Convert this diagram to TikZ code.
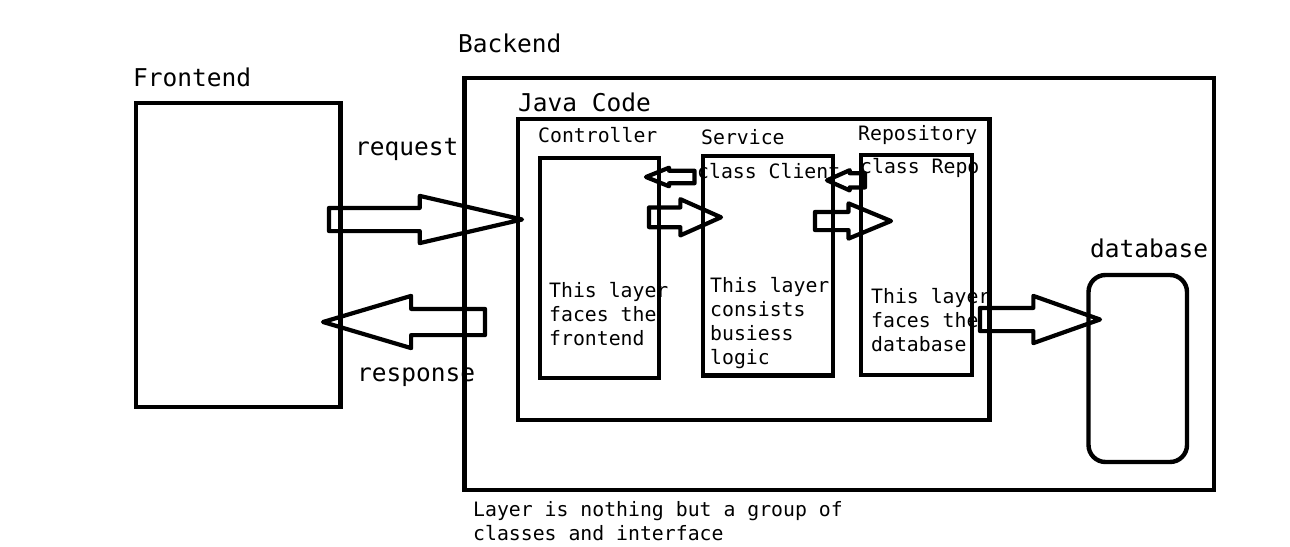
\documentclass[tikz,border=0pt]{standalone}
\usepackage{fontspec}
\setmainfont{DejaVu Sans Mono}
\usetikzlibrary{shapes.arrows}

\tikzset{
    box/.style={draw, line width=4.4pt, inner sep=0pt, outer sep=0pt, anchor=north west},
    big/.style={font=\fontsize{24.5}{29}\selectfont, inner sep=0pt, anchor=base west},
    small/.style={font=\fontsize{19.8}{24}\selectfont, inner sep=0pt, anchor=base west, align=left},
    blockarrow/.style={single arrow, draw, line width=4.2pt, line join=round, inner xsep=0pt,
        outer sep=0pt, single arrow head indent=0pt, anchor=tail},
}

\begin{document}
\begin{tikzpicture}[x=1pt,y=-1pt]
    \useasboundingbox (0,0) rectangle (1290,546);

    % boxes
    \node[box, minimum width=204.5pt, minimum height=304pt] (front) at (136,103) {};
    \node[box, minimum width=749.5pt, minimum height=412pt] (back) at (464.5,78) {};
    \node[box, minimum width=471.5pt, minimum height=301pt] (java) at (518,119) {};
    \node[box, minimum width=119pt, minimum height=220pt] (ctrl) at (540,158) {};
    \node[box, minimum width=130pt, minimum height=219.5pt] (serv) at (703,156) {};
    \node[box, minimum width=111pt, minimum height=220pt] (repo) at (861,155) {};
    \node[box, rounded corners=17pt, minimum width=98.5pt, minimum height=187pt] (db) at (1088.5,275) {};

    % labels (multi-line ones sit on the baseline of their last line)
    \node[big] (backlbl) at (458,52) {Backend};
    \node[big] (frontlbl) at (133,86) {Frontend};
    \node[big] (javalbl) at (518,111) {Java Code};
    \node[big] (reqlbl) at (355,155) {request};
    \node[big] (resplbl) at (357,381) {response};
    \node[big] (dblbl) at (1090,257) {database};
    \node[small] (ctrllbl) at (538,142) {Controller};
    \node[small] (servlbl) at (701,144) {Service};
    \node[small] (repolbl) at (858,140) {Repository};
    \node[small] (clientlbl) at (697,178) {class Client};
    \node[small] (repocls) at (860,173) {class Repo};
    \node[small] (ctrltxt) at (549,345) {This layer\\faces the\\frontend};
    \node[small] (servtxt) at (710,364) {This layer\\consists\\busiess\\logic};
    \node[small] (repotxt) at (871,351) {This layer\\faces the\\database};
    \node[small] (note) at (473,540) {Layer is nothing but a group of\\classes and interface};

    % block arrows
    \node[blockarrow, minimum height=193pt, inner ysep=9.5pt, single arrow head extend=12pt,
        single arrow tip angle=26] (req) at (329,219.5) {};
    \node[blockarrow, rotate=180, minimum height=162pt, inner ysep=11pt, single arrow head extend=13pt,
        single arrow tip angle=33] (resp) at (485,322) {};
    \node[blockarrow, minimum height=72pt, inner ysep=7.75pt, single arrow head extend=8.25pt,
        single arrow tip angle=48] (ctrl2serv) at (649,217.3) {};
    \node[blockarrow, rotate=180, minimum height=48.5pt, inner ysep=4.2pt, single arrow head extend=3pt,
        single arrow tip angle=44] (serv2ctrl) at (694.5,177) {};
    \node[blockarrow, minimum height=76pt, inner ysep=7pt, single arrow head extend=8.5pt,
        single arrow tip angle=45] (serv2repo) at (815,221) {};
    \node[blockarrow, rotate=180, minimum height=38pt, inner ysep=5pt, single arrow head extend=3pt,
        single arrow tip angle=48] (repo2serv) at (865,180.3) {};
    \node[blockarrow, minimum height=120pt, inner ysep=9.5pt, single arrow head extend=12pt,
        single arrow tip angle=39] (repo2db) at (980,319.5) {};
\end{tikzpicture}
\end{document}
